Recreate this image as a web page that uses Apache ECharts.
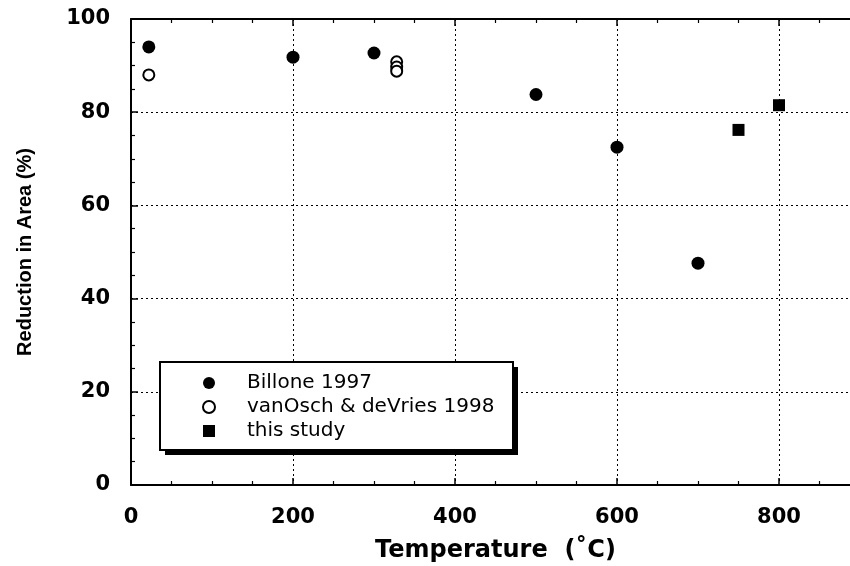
<!DOCTYPE html>
<html><head><meta charset="utf-8">
<script src="https://cdn.jsdelivr.net/npm/echarts@6/dist/echarts.min.js"></script>
<style>html,body{margin:0;padding:0;background:#fff}#c{width:850px;height:566px}</style>
</head><body><div id="c"></div>
<script>
const billone = [[22, 94], [200, 91.8], [300, 92.7], [500, 83.8], [600, 72.5], [700, 47.6]];
const vanOsch = [[22, 88], [328, 90.8], [328, 89.7], [328, 88.8]];
const thisStudy = [[750, 76.2], [800, 81.5]];
const seriesNames = ['Billone 1997', 'vanOsch & deVries 1998', 'this study'];
const xTickLabels = ['0', '200', '400', '600', '800'];

const chart = echarts.init(document.getElementById('c'));
const tickFont = {fontFamily: 'DejaVu Sans', fontWeight: 'bold', fontSize: 21, color: '#000'};
const baseX = {
  type: 'value', min: 0, max: 900, interval: 200,
  axisLine: {show: true, onZero: false, lineStyle: {color: '#000', width: 2}},
  axisTick: {show: true, inside: true, length: 7, lineStyle: {color: '#000', width: 1.5}},
  minorTick: {show: true, splitNumber: 4, length: 4, lineStyle: {color: '#000', width: 1.2}},
  splitLine: {show: false}
};
chart.setOption({
  animation: false,
  grid: {left: 131, top: 19, width: 729, height: 466, outerBoundsMode: 'none', containLabel: false},
  graphic: [
    {type: 'rect', z: 3, shape: {x: 165, y: 367, width: 353, height: 88}, style: {fill: '#000'}},
    {type: 'rect', z: 3, shape: {x: 160, y: 362, width: 353, height: 88},
     style: {fill: '#fff', stroke: '#000', lineWidth: 2}}
  ],
  xAxis: [
    Object.assign({}, baseX, {
      position: 'bottom',
      name: 'Temperature  (˚C)', nameLocation: 'middle', nameGap: 54,
      nameTextStyle: {fontFamily: 'DejaVu Sans', fontWeight: 'bold', fontSize: 24, color: '#000'},
      axisLabel: Object.assign({}, tickFont, {margin: 22,
        formatter: v => xTickLabels.indexOf(String(v)) >= 0 ? String(v) : ''}),
      splitLine: {show: true, lineStyle: {color: '#000', type: [2, 3], width: 1}}
    }),
    Object.assign({}, baseX, {position: 'top', axisLabel: {show: false}})
  ],
  yAxis: {
    type: 'value', min: 0, max: 100, interval: 20,
    name: 'Reduction in Area (%)', nameLocation: 'middle', nameGap: 96,
    nameTextStyle: {fontFamily: 'Liberation Sans', fontWeight: 'bold', fontSize: 20, color: '#000'},
    axisLabel: Object.assign({}, tickFont, {margin: 21}),
    axisLine: {show: true, lineStyle: {color: '#000', width: 2}},
    axisTick: {show: true, inside: true, length: 7, lineStyle: {color: '#000', width: 1.5}},
    minorTick: {show: true, splitNumber: 4, length: 4, lineStyle: {color: '#000', width: 1.2}},
    splitLine: {show: true, lineStyle: {color: '#000', type: [2, 3], width: 1}}
  },
  legend: {
    left: 160, top: 362, orient: 'vertical', z: 5,
    padding: [11, 0, 0, 42], itemGap: 4, itemWidth: 12, itemHeight: 12,
    textStyle: {fontFamily: 'DejaVu Sans', fontSize: 20, color: '#000', padding: [0, 0, 0, 27]},
    data: seriesNames
  },
  series: [
    {name: seriesNames[0], type: 'scatter', data: billone, symbol: 'circle', symbolSize: 13,
     itemStyle: {color: '#000', opacity: 1}, z: 4},
    {name: seriesNames[1], type: 'scatter', data: vanOsch, symbol: 'emptyCircle', symbolSize: 11,
     itemStyle: {color: '#000', borderColor: '#000', borderWidth: 1.2, opacity: 1}, z: 4},
    {name: seriesNames[2], type: 'scatter', data: thisStudy, symbol: 'rect', symbolSize: 12,
     itemStyle: {color: '#000', opacity: 1}, z: 4}
  ]
});
</script></body></html>
